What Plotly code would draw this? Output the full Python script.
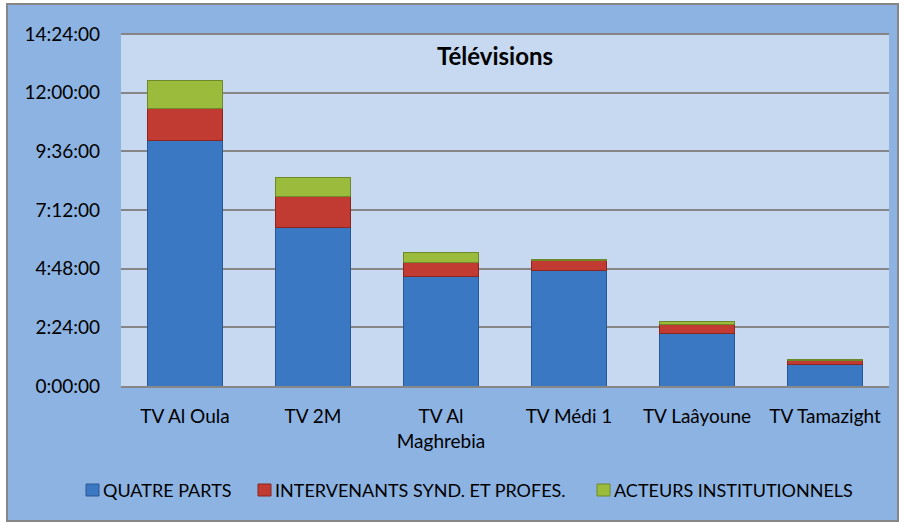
import plotly.graph_objects as go

# ---- data (hours) ----
categories = ["TV Al Oula", "TV 2M", "TV Al<br>Maghrebia", "TV Médi 1", "TV Laâyoune", "TV Tamazight"]
quatre_parts = [10.04, 6.48, 4.47, 4.72, 2.13, 0.90]
intervenants = [1.32, 1.29, 0.60, 0.41, 0.39, 0.14]
acteurs = [1.13, 0.77, 0.40, 0.05, 0.10, 0.06]
series_names = ["QUATRE PARTS", "INTERVENANTS SYND. ET PROFES.", "ACTEURS INSTITUTIONNELS"]
tick_vals = [0, 2.4, 4.8, 7.2, 9.6, 12.0, 14.4]
tick_text = ["0:00:00", "2:24:00", "4:48:00", "7:12:00", "9:36:00", "12:00:00", "14:24:00"]

W, H = 904, 523
ML, MR, MT, MB = 121, 15, 34, 137
PW, PH = W - ML - MR, H - MT - MB

def px_x(x):
    return (x - ML) / PW

def px_y(y):
    return (H - MB - y) / PH

FONT = "Lato"

fig = go.Figure()
fills = ["#3b78c4", "#c23b33", "#9bbb3c"]
lines = ["#2a5790", "#8a2520", "#6e8a28"]
for name, vals, fc, lc in zip(series_names, [quatre_parts, intervenants, acteurs], fills, lines):
    fig.add_trace(go.Bar(
        x=categories, y=vals, name=name,
        marker=dict(color=fc, line=dict(color=lc, width=1)),
    ))

# custom legend (marker squares + labels), laid out in pixel positions
legend_marker_x = [86, 258, 597]
legend_y = 490
shapes = [
    dict(type="rect", xref="paper", yref="paper",
         x0=px_x(7), x1=px_x(898), y0=px_y(521), y1=px_y(4),
         fillcolor="#8db3e2", line=dict(color="#868686", width=2), layer="below"),
    dict(type="rect", xref="paper", yref="paper",
         x0=0, x1=1, y0=0, y1=1,
         fillcolor="#c6d9f1", line=dict(width=0), layer="below"),
    dict(type="line", xref="paper", yref="paper",
         x0=0, x1=1, y0=1, y1=1,
         line=dict(color="#868686", width=2), layer="below"),
]
annotations = [
    dict(text="<b>Télévisions</b>", xref="paper", yref="paper",
         x=px_x(495), y=px_y(55), xanchor="center", yanchor="middle",
         showarrow=False, font=dict(family=FONT, size=24, color="#000")),
]
for name, mx, fc, lc in zip(series_names, legend_marker_x, fills, lines):
    shapes.append(dict(type="rect", xref="paper", yref="paper",
                       x0=px_x(mx), x1=px_x(mx + 13), y0=px_y(legend_y + 6), y1=px_y(legend_y - 6),
                       fillcolor=fc, line=dict(color=lc, width=1)))
    annotations.append(dict(text=name, xref="paper", yref="paper",
                            x=px_x(mx + 15), y=px_y(legend_y), xanchor="left", yanchor="middle",
                            showarrow=False, font=dict(family=FONT, size=18, color="#000")))

fig.update_layout(
    width=W, height=H,
    barmode="stack", bargap=0.42,
    margin=dict(l=ML, r=MR, t=MT, b=MB, pad=0, autoexpand=False),
    paper_bgcolor="white",
    plot_bgcolor="rgba(0,0,0,0)",
    font=dict(family=FONT, size=18, color="#000000"),
    showlegend=False,
    xaxis=dict(
        showgrid=False, showline=True, linecolor="#868686", linewidth=2,
        ticks="", ticklabelstandoff=12, tickfont=dict(size=19), automargin=False,
    ),
    yaxis=dict(
        range=[0, 14.4], tickvals=tick_vals, ticktext=tick_text,
        showgrid=True, gridcolor="#868686", gridwidth=2, zeroline=False,
        showline=False, ticks="", ticklabelstandoff=20, tickfont=dict(size=19),
        automargin=False,
    ),
    shapes=shapes,
    annotations=annotations,
)

fig.write_html("out.html", config={"displayModeBar": False},
               post_script="document.body.style.margin='0';")
